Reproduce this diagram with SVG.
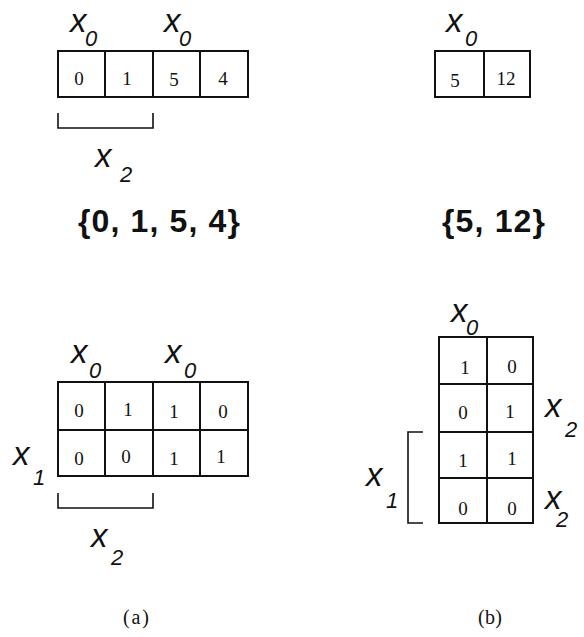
<svg xmlns="http://www.w3.org/2000/svg" width="584" height="637" viewBox="0 0 584 637">
<style>
.cell{fill:#fff;stroke:#111;stroke-width:2}
.ln{fill:none;stroke:#111;stroke-width:2}
.br{fill:none;stroke:#111;stroke-width:1.6}
.d{font-family:"Liberation Serif",serif;font-size:19px;fill:#111;text-anchor:middle}
.v{font-family:"Liberation Sans",Arial,sans-serif;font-style:italic;font-size:33px;fill:#111}
.s{font-family:"Liberation Sans",Arial,sans-serif;font-style:italic;font-size:22px;fill:#111}
.set{font-family:"Liberation Sans",Arial,sans-serif;font-weight:bold;font-size:32px;fill:#111}
.cap{font-family:"Liberation Serif",serif;font-size:20px;fill:#111}
</style>
<rect width="584" height="637" fill="#fff"/>

<g id="mapA">
  <rect class="cell" x="58" y="51" width="190" height="46"/>
  <line class="ln" x1="105" y1="51" x2="105" y2="97"/>
  <line class="ln" x1="153" y1="51" x2="153" y2="97"/>
  <line class="ln" x1="200" y1="51" x2="200" y2="97"/>
  <text class="d" x="79" y="85">0</text>
  <text class="d" x="127" y="85">1</text>
  <text class="d" x="174" y="86">5</text>
  <text class="d" x="223" y="85">4</text>
  <text class="v" x="70" y="32">x</text><text class="s" x="85" y="46">0</text>
  <text class="v" x="164" y="32">x</text><text class="s" x="179" y="46">0</text>
  <path class="br" d="M58,113 V128 H153 V113"/>
  <text class="v" x="95" y="167">x</text><text class="s" x="120" y="182">2</text>
  <text class="set" x="78" y="232" textLength="162" lengthAdjust="spacing">{0, 1, 5, 4}</text>
</g>

<g id="mapB">
  <rect class="cell" x="435" y="51" width="95" height="46"/>
  <line class="ln" x1="484" y1="51" x2="484" y2="97"/>
  <text class="d" x="455" y="87">5</text>
  <text class="d" x="506" y="85">12</text>
  <text class="v" x="446" y="32">x</text><text class="s" x="465" y="46">0</text>
  <text class="set" x="442" y="232" textLength="103" lengthAdjust="spacing">{5, 12}</text>
</g>

<g id="kmapA">
  <rect class="cell" x="58" y="382" width="190" height="94"/>
  <line class="ln" x1="58" y1="430" x2="248" y2="430"/>
  <line class="ln" x1="105" y1="382" x2="105" y2="476"/>
  <line class="ln" x1="153" y1="382" x2="153" y2="476"/>
  <line class="ln" x1="200" y1="382" x2="200" y2="476"/>
  <text class="d" x="79" y="417">0</text>
  <text class="d" x="128" y="416">1</text>
  <text class="d" x="174" y="418">1</text>
  <text class="d" x="223" y="418">0</text>
  <text class="d" x="79" y="465">0</text>
  <text class="d" x="126" y="463">0</text>
  <text class="d" x="174" y="465">1</text>
  <text class="d" x="221" y="463">1</text>
  <text class="v" x="71" y="363">x</text><text class="s" x="89" y="378">0</text>
  <text class="v" x="165" y="363">x</text><text class="s" x="184" y="378">0</text>
  <text class="v" x="13" y="465">x</text><text class="s" x="33" y="485">1</text>
  <path class="br" d="M58,493 V508 H153 V493"/>
  <text class="v" x="91" y="547">x</text><text class="s" x="111" y="565">2</text>
</g>

<g id="kmapB">
  <rect class="cell" x="439" y="337" width="94" height="186"/>
  <line class="ln" x1="487" y1="337" x2="487" y2="523"/>
  <line class="ln" x1="439" y1="384" x2="533" y2="384"/>
  <line class="ln" x1="439" y1="432" x2="533" y2="432"/>
  <line class="ln" x1="439" y1="478" x2="533" y2="478"/>
  <text class="d" x="465" y="374">1</text>
  <text class="d" x="512" y="373">0</text>
  <text class="d" x="463" y="419">0</text>
  <text class="d" x="510" y="418">1</text>
  <text class="d" x="463" y="467">1</text>
  <text class="d" x="512" y="465">1</text>
  <text class="d" x="463" y="515">0</text>
  <text class="d" x="512" y="515">0</text>
  <text class="v" x="451" y="322">x</text><text class="s" x="466" y="335">0</text>
  <text class="v" x="545" y="417">x</text><text class="s" x="565" y="437">2</text>
  <text class="v" x="545" y="509">x</text><text class="s" x="556" y="527">2</text>
  <text class="v" x="366" y="486">x</text><text class="s" x="386" y="508">1</text>
  <path class="br" d="M423,432 H408 V523 H423"/>
</g>

<g id="captions">
  <text class="cap" x="123" y="624" textLength="26" lengthAdjust="spacing">(a)</text>
  <text class="cap" x="478" y="624" textLength="24" lengthAdjust="spacing">(b)</text>
</g>
<g id="connectors"></g>
</svg>
